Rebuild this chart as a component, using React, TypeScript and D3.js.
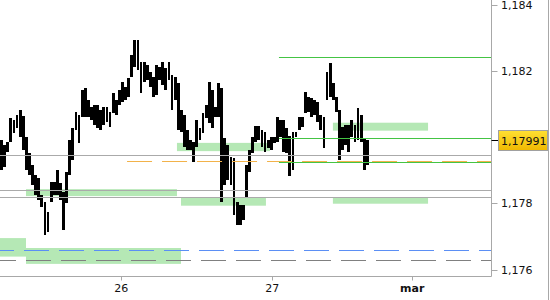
import React from "react";
import * as d3 from "d3";

// ---- data ----
const highs = [
  1.17992, 1.17976, 1.17985, 1.18058, 1.18052, 1.18067, 1.18082, 1.18064, 1.18001, 1.17952,
  1.17916, 1.17886, 1.17877, 1.17825, 1.17804, 1.17774, 1.17864, 1.17864, 1.17901, 1.17861,
  1.17834, 1.17895, 1.17992, 1.18028, 1.18076, 1.18067, 1.18143, 1.18149, 1.18113, 1.18091,
  1.18097, 1.18097, 1.18082, 1.18091, 1.18091, 1.18076, 1.18134, 1.18113, 1.18143, 1.18167,
  1.18152, 1.18179, 1.18249, 1.18294, 1.18294, 1.18227, 1.18227, 1.18218, 1.18197, 1.18182,
  1.18218, 1.18212, 1.18227, 1.18209, 1.18227, 1.18188, 1.18182, 1.18164, 1.18082, 1.18067,
  1.18022, 1.17992, 1.17985, 1.18052, 1.18028, 1.18073, 1.18097, 1.18167, 1.18143, 1.18091,
  1.18164, 1.18149, 1.17998, 1.17976, 1.1794, 1.17937, 1.17804, 1.17795, 1.17795, 1.17916,
  1.17961, 1.18001, 1.18034, 1.18034, 1.18022, 1.18016, 1.17992, 1.18001, 1.18001, 1.18061,
  1.18052, 1.18052, 1.18028, 1.18004, 1.18016, 1.18016, 1.18061, 1.18061, 1.18137, 1.18122,
  1.18119, 1.18113, 1.18106, 1.18067, 1.18061, 1.18197, 1.18224, 1.18164, 1.18122, 1.18082,
  1.18031, 1.18037, 1.18037, 1.18052, 1.18037, 1.18088, 1.18067, 1.17998, 1.17992,
];
const lows = [
  1.17901, 1.1791, 1.17955, 1.17985, 1.18013, 1.18028, 1.18001, 1.17961, 1.17901, 1.17886,
  1.17855, 1.17825, 1.1781, 1.17789, 1.17704, 1.17713, 1.17804, 1.17825, 1.17825, 1.1781,
  1.17719, 1.17801, 1.17886, 1.17931, 1.18022, 1.17982, 1.18061, 1.18061, 1.18061, 1.18052,
  1.18037, 1.18028, 1.18022, 1.18037, 1.18046, 1.18031, 1.18073, 1.18067, 1.18097, 1.18106,
  1.18113, 1.18122, 1.18182, 1.18212, 1.18203, 1.18134, 1.18167, 1.18173, 1.18152, 1.18122,
  1.18128, 1.18173, 1.18158, 1.18143, 1.18173, 1.18082, 1.18113, 1.18022, 1.18016, 1.1797,
  1.17961, 1.17961, 1.17925, 1.1797, 1.17992, 1.18013, 1.18058, 1.18043, 1.18028, 1.18061,
  1.18061, 1.17804, 1.17855, 1.17871, 1.17855, 1.17765, 1.17734, 1.17734, 1.1775, 1.17819,
  1.17895, 1.17952, 1.17985, 1.17992, 1.1797, 1.17955, 1.17967, 1.17961, 1.17982, 1.17985,
  1.18001, 1.17955, 1.17952, 1.17883, 1.17901, 1.18001, 1.18022, 1.18031, 1.18073, 1.18076,
  1.18061, 1.18067, 1.18046, 1.18022, 1.17967, 1.18113, 1.18122, 1.18113, 1.18076, 1.17931,
  1.17961, 1.17976, 1.17955, 1.18001, 1.17985, 1.17992, 1.17985, 1.17901, 1.17916,
];
const lastPrice = 1.17991;
const lastPriceLabel = "1,17991";

const yTicks = [1.176, 1.178, 1.182, 1.184];
const yTickLabels = ["1,176", "1,178", "1,182", "1,184"];

const xTickIdx = [38.65, 87.35, 132.5];
const xTickLabels = ["26", "27", "mar"];
const xTickBold = [false, false, true];

const grayLevels = [1.17945, 1.1784, 1.17819];
const greenLevels = [1.18243, 1.17998, 1.17924];
const greenStart = 89.5;
const orangeLevel = 1.17928;
const orangeStart = 40.5;
const blueDashLevel = 1.17659;
const grayDashLevel = 1.17629;

const zoneStart = [-1, 7.9, 7.9, 57.9, 106.9, 106.9, 56.6];
const zoneEnd = [7.9, 57.9, 56.6, 85.3, 137.6, 137.6, 86.6];
const zoneTop = [1.17695, 1.17665, 1.17843, 1.17819, 1.17819, 1.18044, 1.17983];
const zoneBottom = [1.17639, 1.17617, 1.17822, 1.17793, 1.17799, 1.1802, 1.17958];

export default function App() {
  const W = 550;
  const H = 300;
  const plotRight = 491.5;
  const axisY = 276.5;
  const x = d3.scaleLinear().domain([0, 100]).range([1.5, 311.5]);
  const y = d3.scaleLinear().domain([1.176, 1.184]).range([269.5, 5]);
  const font = "DejaVu Sans, Verdana, sans-serif";
  const axisColor = "#a8a8a8";
  const barW = 2.8;

  return (
    <svg
      width={W}
      height={H}
      style={{ position: "absolute", left: 0, top: 0, background: "#fff" }}
    >
      <defs>
        <clipPath id="plot">
          <rect x={0} y={0} width={plotRight} height={axisY} />
        </clipPath>
        <linearGradient id="gold" x1="0" y1="0" x2="0" y2="1">
          <stop offset="0%" stopColor="#ffe033" />
          <stop offset="100%" stopColor="#f0b800" />
        </linearGradient>
      </defs>
      <g clipPath="url(#plot)">
        {zoneStart.map((s, i) => (
          <rect
            key={"z" + i}
            x={x(s)}
            y={y(zoneTop[i])}
            width={x(zoneEnd[i]) - x(s)}
            height={y(zoneBottom[i]) - y(zoneTop[i])}
            fill="#b5e8b5"
          />
        ))}
        {highs.map((h, i) => (
          <rect
            key={"b" + i}
            x={x(i) - barW / 2}
            y={y(h)}
            width={barW}
            height={Math.max(2, y(lows[i]) - y(h))}
            fill="#000"
            shapeRendering="crispEdges"
          />
        ))}
        {grayLevels.map((v, i) => (
          <line
            key={"g" + i}
            x1={0}
            x2={plotRight}
            y1={Math.round(y(v)) + 0.5}
            y2={Math.round(y(v)) + 0.5}
            stroke="#aaaaaa"
            strokeWidth={1.2}
          />
        ))}
        <line
          x1={x(orangeStart)}
          x2={plotRight}
          y1={Math.round(y(orangeLevel)) + 0.5}
          y2={Math.round(y(orangeLevel)) + 0.5}
          stroke="#f2b24a"
          strokeWidth={1.2}
          strokeDasharray="25 10"
        />
        {greenLevels.map((v, i) => (
          <line
            key={"gr" + i}
            x1={x(greenStart)}
            x2={plotRight}
            y1={Math.round(y(v)) + 0.5}
            y2={Math.round(y(v)) + 0.5}
            stroke="#44c444"
            strokeWidth={1.2}
          />
        ))}
        <line
          x1={0}
          x2={plotRight}
          y1={Math.round(y(blueDashLevel)) + 0.5}
          y2={Math.round(y(blueDashLevel)) + 0.5}
          stroke="#5b8ff5"
          strokeWidth={1.2}
          strokeDasharray="25 10"
          strokeDashoffset={11}
        />
        <line
          x1={0}
          x2={plotRight}
          y1={Math.round(y(grayDashLevel)) + 0.5}
          y2={Math.round(y(grayDashLevel)) + 0.5}
          stroke="#808080"
          strokeWidth={1.2}
          strokeDasharray="25 10"
          strokeDashoffset={9}
        />
      </g>

      {/* axes */}
      <line x1={0} x2={plotRight} y1={axisY} y2={axisY} stroke={axisColor} />
      <line x1={plotRight} x2={plotRight} y1={0} y2={axisY} stroke={axisColor} />
      <line x1={548.5} x2={548.5} y1={0} y2={H} stroke={axisColor} />
      {xTickIdx.map((t, i) => (
        <g key={"xt" + i}>
          <line
            x1={Math.round(x(t)) + 0.5}
            x2={Math.round(x(t)) + 0.5}
            y1={axisY}
            y2={axisY + 4}
            stroke={axisColor}
          />
          <text
            x={x(t)}
            y={292}
            textAnchor="middle"
            fontFamily={font}
            fontSize={11}
            fontWeight={xTickBold[i] ? "bold" : "normal"}
            fill="#111"
          >
            {xTickLabels[i]}
          </text>
        </g>
      ))}
      {yTicks.map((t, i) => (
        <g key={"yt" + i}>
          <line
            x1={plotRight}
            x2={plotRight + 6}
            y1={Math.round(y(t)) + 0.5}
            y2={Math.round(y(t)) + 0.5}
            stroke={axisColor}
          />
          <text
            x={501}
            y={y(t) + 4}
            fontFamily={font}
            fontSize={11}
            fill="#111"
          >
            {yTickLabels[i]}
          </text>
        </g>
      ))}
      {/* last price */}
      <line
        x1={plotRight}
        x2={plotRight + 7}
        y1={Math.round(y(lastPrice)) + 0.5}
        y2={Math.round(y(lastPrice)) + 0.5}
        stroke="#000"
      />
      <rect
        x={498.5}
        y={Math.round(y(lastPrice)) - 9.5}
        width={49}
        height={20}
        fill="url(#gold)"
        stroke="#a0a0a0"
      />
      <text
        x={501}
        y={y(lastPrice) + 4.5}
        fontFamily={font}
        fontSize={11}
        fill="#111"
      >
        {lastPriceLabel}
      </text>
    </svg>
  );
}
